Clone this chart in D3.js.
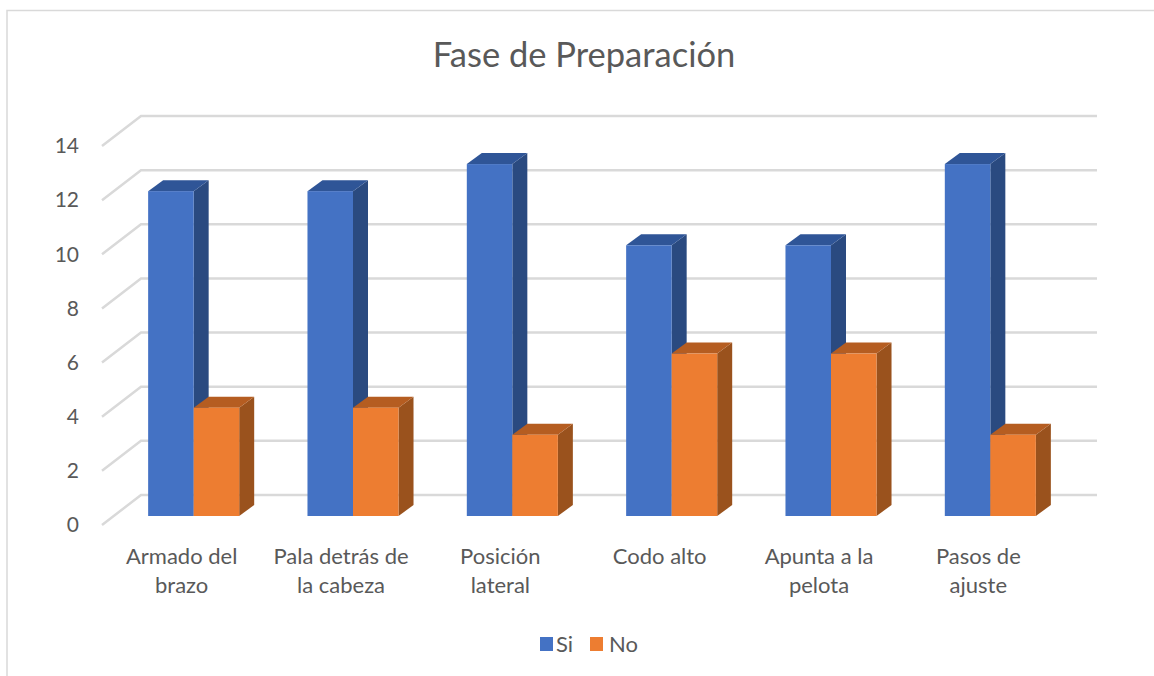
<!DOCTYPE html>
<html>
<head>
<meta charset="utf-8">
<script src="https://cdn.jsdelivr.net/npm/d3@7/dist/d3.min.js"></script>
<style>
html, body { margin: 0; padding: 0; background: #fff; }
svg { display: block; }
text { font-family: Lato, "Open Sans", sans-serif; fill: #595959; }
</style>
</head>
<body>
<div id="chart"></div>
<script>
var categories = ['Armado del brazo', 'Pala detrás de la cabeza', 'Posición lateral', 'Codo alto', 'Apunta a la pelota', 'Pasos de ajuste'];
var categoryLines = [['Armado del', 'brazo'], ['Pala detrás de', 'la cabeza'], ['Posición', 'lateral'], ['Codo alto'], ['Apunta a la', 'pelota'], ['Pasos de', 'ajuste']];
var seriesNames = ['Si', 'No'];
var siValues = [12, 12, 13, 10, 10, 13];
var noValues = [4, 4, 3, 6, 6, 3];
var yTicks = [0, 2, 4, 6, 8, 10, 12, 14];

var width = 1154;
var height = 676;
var wall = { dx: 39, dy: -30 };   // front of floor to back wall
var mid = { dx: 12, dy: -9 };     // front of floor to front of bars
var depth = { dx: 15, dy: -11 };  // depth of one bar

var svg = d3.select('#chart').append('svg')
    .attr('width', width)
    .attr('height', height);

// chart frame, only top and left show in the picture
svg.append('path')
    .attr('d', 'M7,676V10.5H1154')
    .attr('fill', 'none')
    .attr('stroke', '#d9d9d9')
    .attr('stroke-width', 1.5);

svg.append('text')
    .attr('x', 584)
    .attr('y', 67)
    .attr('text-anchor', 'middle')
    .style('font-size', '34.5px')
    .text('Fase de Preparación');

var x = d3.scaleBand()
    .domain(categories)
    .range([102, 1058]);
var y = d3.scaleLinear()
    .domain([0, 14])
    .range([525, 146]);
var inner = d3.scaleBand()
    .domain(seriesNames)
    .range([0, x.bandwidth()])
    .paddingOuter(0.75)
    .paddingInner(0);
var color = d3.scaleOrdinal()
    .domain(seriesNames)
    .range(['#4472c4', '#ed7d31']);
var side = d3.scaleOrdinal()
    .domain(seriesNames)
    .range(['#2a4a80', '#9a521d']);
var top3d = d3.scaleOrdinal()
    .domain(seriesNames)
    .range(['#2f5597', '#b55d21']);

// gridlines: slanted on the side wall, then flat across the back
svg.append('g').selectAll('path')
    .data(yTicks)
    .enter().append('path')
    .attr('d', function (d) {
        var y0 = y(d);
        return 'M' + x.range()[0] + ',' + y0 +
            'L' + (x.range()[0] + wall.dx) + ',' + (y0 + wall.dy) +
            'H' + (x.range()[1] + wall.dx);
    })
    .attr('fill', 'none')
    .attr('stroke', '#d9d9d9')
    .attr('stroke-width', 2.5);

var bars = [];
categories.forEach(function (c, i) {
    bars.push({ category: c, series: 'Si', value: siValues[i] });
    bars.push({ category: c, series: 'No', value: noValues[i] });
});

var bar = svg.append('g').selectAll('g')
    .data(bars)
    .enter().append('g');

function corners(d) {
    return {
        x0: x(d.category) + inner(d.series) + mid.dx,
        x1: x(d.category) + inner(d.series) + inner.bandwidth() + mid.dx,
        y0: y(0) + mid.dy,
        y1: y(d.value) + mid.dy
    };
}

// side face
bar.append('path')
    .attr('d', function (d) {
        var b = corners(d);
        return 'M' + b.x1 + ',' + b.y0 + 'L' + (b.x1 + depth.dx) + ',' + (b.y0 + depth.dy) +
            'V' + (b.y1 + depth.dy) + 'L' + b.x1 + ',' + b.y1 + 'Z';
    })
    .attr('fill', function (d) { return side(d.series); });

// top face
bar.append('path')
    .attr('d', function (d) {
        var b = corners(d);
        return 'M' + b.x0 + ',' + b.y1 + 'L' + (b.x0 + depth.dx) + ',' + (b.y1 + depth.dy) +
            'H' + (b.x1 + depth.dx) + 'L' + b.x1 + ',' + b.y1 + 'Z';
    })
    .attr('fill', function (d) { return top3d(d.series); });

// front face
bar.append('rect')
    .attr('x', function (d) { return corners(d).x0; })
    .attr('y', function (d) { return corners(d).y1; })
    .attr('width', inner.bandwidth())
    .attr('height', function (d) { return corners(d).y0 - corners(d).y1; })
    .attr('fill', function (d) { return color(d.series); });

// y axis
var yAxis = svg.append('g')
    .attr('transform', 'translate(87,0)')
    .call(d3.axisLeft(y).tickValues(yTicks).tickSize(0).tickPadding(8));
yAxis.select('.domain').remove();
yAxis.selectAll('text')
    .style('font-size', '21px')
    .style('font-family', 'Lato, sans-serif')
    .attr('fill', '#595959');

// x axis, labels on two lines
var xAxis = svg.append('g')
    .attr('transform', 'translate(0,548)')
    .call(d3.axisBottom(x).tickSize(0).tickPadding(0));
xAxis.select('.domain').remove();
xAxis.selectAll('text')
    .style('font-size', '22px')
    .style('font-family', 'Lato, sans-serif')
    .attr('fill', '#595959')
    .each(function (d, i) {
        var t = d3.select(this).text(null).attr('y', 0).attr('dy', null);
        categoryLines[i].forEach(function (l, j) {
            t.append('tspan')
                .attr('x', 0)
                .attr('y', j * 29)
                .attr('dy', '0.71em')
                .text(l);
        });
    });

// legend
var legendX = d3.scaleOrdinal()
    .domain(seriesNames)
    .range([540, 590]);
var legend = svg.append('g').selectAll('g')
    .data(seriesNames)
    .enter().append('g')
    .attr('transform', function (d) { return 'translate(' + legendX(d) + ',637)'; });
legend.append('rect')
    .attr('width', 13)
    .attr('height', 14)
    .attr('fill', function (d) { return color(d); });
legend.append('text')
    .attr('x', function (d) { return d === 'Si' ? 16 : 19; })
    .attr('y', 15)
    .style('font-size', '22px')
    .text(function (d) { return d; });
</script>
</body>
</html>
